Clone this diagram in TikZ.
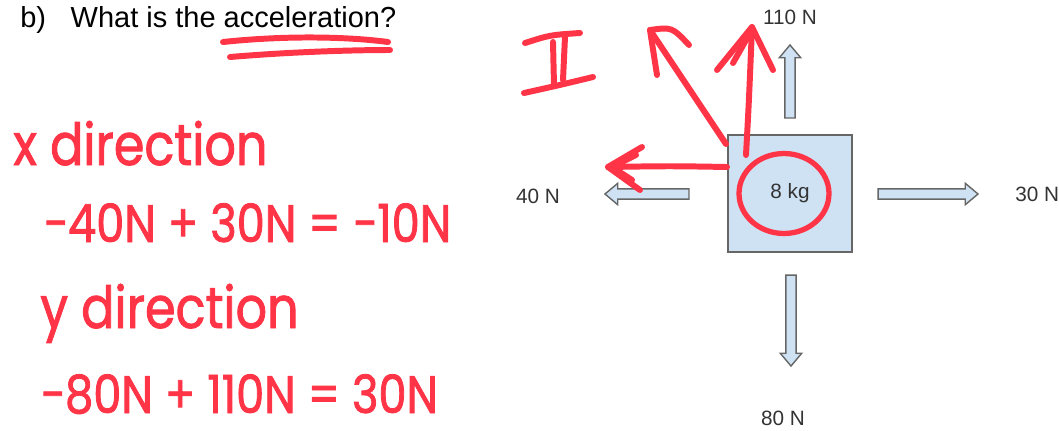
\documentclass[tikz,border=0pt]{standalone}
\usepackage{fontspec}
\setmainfont{Liberation Sans}
\newfontfamily\handfont[FakeStretch=0.85, FakeBold=1.5]{Poppins}
\usetikzlibrary{positioning,calc,shapes.arrows}
\definecolor{inkred}{RGB}{255,52,70}
\definecolor{boxblue}{RGB}{207,226,243}
\definecolor{boxedge}{RGB}{102,102,102}
\definecolor{labelgray}{RGB}{51,51,51}
\tikzset{
  massbox/.style={draw=boxedge, line width=0.9pt, fill=boxblue,
    minimum width=2.48cm, minimum height=2.34cm,
    font=\fontsize{11.8}{14}\selectfont, text=labelgray},
  force/.style={single arrow, draw=boxedge, fill=boxblue, line width=0.8pt,
    inner sep=2.5pt, single arrow head extend=3.2pt, single arrow tip angle=80},
  forcelabel/.style={text=labelgray, font=\fontsize{11.8}{14}\selectfont},
  ink/.style={draw=inkred, line width=3.4pt, line cap=round, line join=round},
  handtext/.style={text=inkred, anchor=base west, inner sep=0pt,
    font=\handfont\fontsize{30}{30}\selectfont},
  handhead/.style={handtext, font=\handfont\fontsize{33}{33}\selectfont},
}

\begin{document}
\begin{tikzpicture}[x=0.02cm, y=-0.02cm]
\useasboundingbox (0,0) rectangle (1059,430);

\node[anchor=base west, inner sep=0pt, font=\fontsize{16.5}{20}\selectfont] (title) at (20,27)
  {b)\hspace{14pt}What is the acceleration?};

% free body diagram
\node[massbox] (mass) at (790,193.5) {8 kg};

\node[force, minimum height=2cm] (fright) at (925,194) {};
\node[force, minimum height=1.68cm, rotate=180] (fleft) at (650,194) {};
\node[force, minimum height=1.46cm, rotate=90] (fup) at (790,84.5) {};
\node[force, minimum height=1.82cm, rotate=-90] (fdown) at (791,317.5) {};

\node[forcelabel, right=0.6cm of fright] (l30) {30 N};
\node[forcelabel] (l40) at (538,196) {40 N};
\node[forcelabel] (l110) at (790,17) {110 N};
\node[forcelabel] (l80) at (783,418) {80 N};

% red ink
\draw[ink] (223,42) .. controls (290,35) and (350,37) .. (388,42);
\draw[ink] (230,57) .. controls (290,52) and (350,50) .. (390,50);

\draw[ink, line width=3pt] (784,193.5) ellipse [x radius=0.9cm, y radius=0.8cm];

\coordinate (upTip) at (752,27);
\coordinate (diagTip) at (650,30);
\coordinate (leftTip) at (608,167);

\draw[ink] (746,155) .. controls (749,100) .. (upTip);
\draw[ink] (717,70) -- (upTip) -- (773,70);
\draw[ink] (733,63) -- (750,33);

\draw[ink] (726,144) -- (diagTip);
\draw[ink] (657,75) -- (diagTip) .. controls (672,27) .. (689,45);

\draw[ink] (727,167) .. controls (670,166) .. (leftTip);
\draw[ink] (642,147) -- (leftTip) -- (640,190);
\draw[ink] (636,155) -- (612,167) -- (632,180);

% roman two
\draw[ink] (525,43) .. controls (550,35) .. (580,33);
\draw[ink] (524,93) .. controls (560,85) .. (593,77);
\draw[ink] (553,42) -- (554,85);
\draw[ink] (565,37) -- (563,80);

\node[handhead] (xdir) at (13,165) {x direction};
\node[handtext] (xsum) at (43,242) {−40N + 30N = −10N};
\node[handhead] (ydir) at (40,328) {y direction};
\node[handtext] (ysum) at (40,413) {−80N + 110N = 30N};

\end{tikzpicture}
\end{document}
